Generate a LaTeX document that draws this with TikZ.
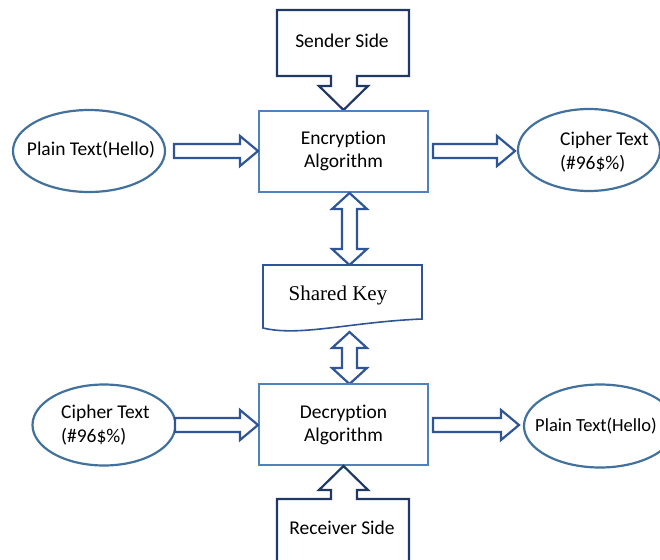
\documentclass[tikz,border=0pt]{standalone}
\usepackage{fontspec}
\setmainfont[Ligatures=NoCommon]{Carlito}
\newfontfamily\timesf{Liberation Serif}
\usetikzlibrary{shapes.geometric}
\definecolor{navy}{HTML}{1F3864}
\definecolor{arrowblue}{HTML}{2F5597}
\definecolor{boxblue}{HTML}{4F81BD}
\definecolor{ellblue}{HTML}{41719C}
\tikzset{
  txt/.style={font=\fontsize{19.5}{23.5}\selectfont, inner sep=0pt, text=black},
  algbox/.style={draw=boxblue, line width=1.6pt, fill=white},
  ell/.style={draw=ellblue, line width=2.2pt, ellipse, fill=white, inner sep=0pt},
  barrow/.style={draw=arrowblue, line width=2.2pt, fill=white, line join=miter},
  callout/.style={draw=navy, line width=2.2pt, fill=white, line join=miter},
}
\newcommand\harrow[3]{% x1, x2, y
  \draw[barrow] (#1,#3-7) -- (#2-18,#3-7) -- (#2-18,#3-15) -- (#2,#3) -- (#2-18,#3+15) -- (#2-18,#3+7) -- (#1,#3+7) -- cycle;}
\newcommand\vdarrow[3]{% x, y1, y2
  \draw[barrow] (#1,#2) -- (#1+17.5,#2+16) -- (#1+7.5,#2+16) -- (#1+7.5,#3-16) -- (#1+17.5,#3-16) -- (#1,#3) -- (#1-17.5,#3-16) -- (#1-7.5,#3-16) -- (#1-7.5,#2+16) -- (#1-17.5,#2+16) -- cycle;}
\begin{document}
\begin{tikzpicture}[x=1pt,y=-1pt]
\useasboundingbox (0,0) rectangle (660,559);
% Sender callout
\draw[callout] (277,10) -- (409,10) -- (409,76) -- (357,76) -- (357,86) -- (368,86) -- (343.5,110) -- (319,86) -- (331,86) -- (331,76) -- (277,76) -- cycle;
\node[txt] (sender) at (342,41) {Sender Side};
% Encryption box
\draw[algbox] (259,111) rectangle (428,192);
\node[txt, align=center] (enc) at (343.5,151) {Encryption\\Algorithm};
% Plain text top-left
\node[ell, minimum width=152, minimum height=82] (p1) at (89,151) {};
\node[txt] at (91,150) {Plain Text(Hello)};
% Cipher top-right
\node[ell, minimum width=142, minimum height=82] (c1) at (589,150) {};
\node[txt, align=left, anchor=west] at (560,152) {Cipher Text\\(\#96\$\%)};
% horizontal arrows top
\harrow{174}{258}{151}
\harrow{433}{515}{151}
% double arrows
\vdarrow{349.5}{193}{265}
\vdarrow{349.5}{332}{384}
% Shared key document
\draw[algbox, draw=arrowblue] (263,265) -- (422,265) -- (422,319) .. controls (350,322) and (300,337) .. (263,328) -- cycle;
\node[txt, font=\timesf\fontsize{21}{25}\selectfont] (key) at (338,295) {Shared Key};
% Decryption box
\draw[algbox] (259,384) rectangle (428,465);
\node[txt, align=center] (dec) at (343.5,425) {Decryption\\Algorithm};
% Cipher bottom-left
\node[ell, minimum width=143, minimum height=81] (c2) at (104,425) {};
\node[txt, align=left, anchor=west] at (61,425) {Cipher Text\\(\#96\$\%)};
% Plain text bottom-right
\node[ell, minimum width=152, minimum height=83] (p2) at (600,426) {};
\node[txt, anchor=west, font=\fontsize{18.5}{22}\selectfont] at (535,426) {Plain Text(Hello)};
% horizontal arrows bottom
\harrow{175}{258}{425}
\harrow{433}{519}{425}
% Receiver callout
\draw[callout] (277,575) -- (277,499) -- (331,499) -- (331,490) -- (319,490) -- (343.5,466) -- (368,490) -- (357,490) -- (357,499) -- (409,499) -- (409,575);
\node[txt] (receiver) at (342,528) {Receiver Side};
\end{tikzpicture}
\end{document}
